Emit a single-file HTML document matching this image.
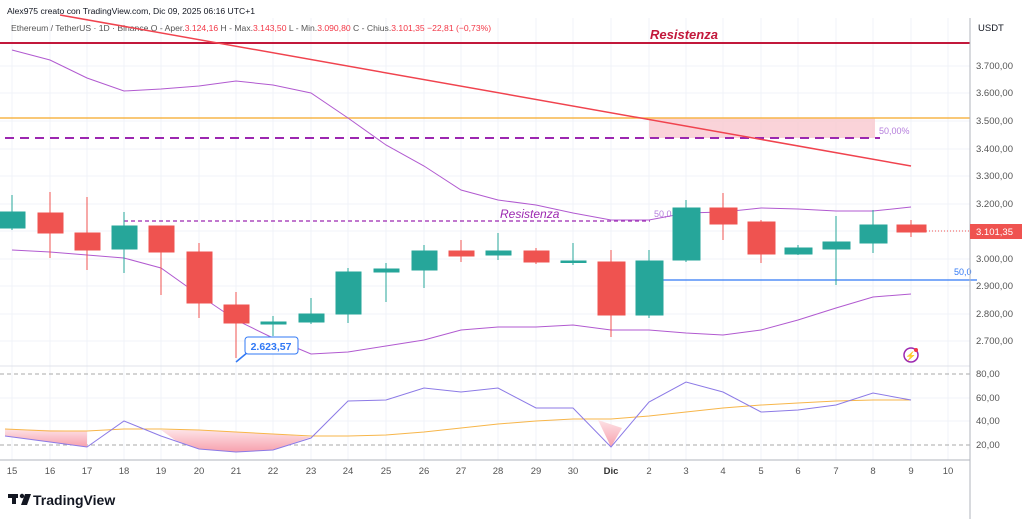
<!DOCTYPE html>
<html><head><meta charset="utf-8"><style>
body{margin:0;background:#fff;font-family:"Liberation Sans",sans-serif}
svg text{font-family:"Liberation Sans",sans-serif}
</style></head><body>
<svg width="1024" height="519" viewBox="0 0 1024 519" xmlns="http://www.w3.org/2000/svg">
<rect width="1024" height="519" fill="#fff"/>
<g stroke="#f0f3f8" stroke-width="1">
<line x1="0" y1="66" x2="970" y2="66"/><line x1="0" y1="93" x2="970" y2="93"/><line x1="0" y1="121" x2="970" y2="121"/><line x1="0" y1="149" x2="970" y2="149"/><line x1="0" y1="176" x2="970" y2="176"/><line x1="0" y1="204" x2="970" y2="204"/><line x1="0" y1="231" x2="970" y2="231"/><line x1="0" y1="259" x2="970" y2="259"/><line x1="0" y1="286" x2="970" y2="286"/><line x1="0" y1="314" x2="970" y2="314"/><line x1="0" y1="341" x2="970" y2="341"/>
<line x1="0" y1="398" x2="970" y2="398"/><line x1="0" y1="421" x2="970" y2="421"/>
<line x1="12" y1="18" x2="12" y2="460"/><line x1="50" y1="18" x2="50" y2="460"/><line x1="87" y1="18" x2="87" y2="460"/><line x1="124" y1="18" x2="124" y2="460"/><line x1="161" y1="18" x2="161" y2="460"/><line x1="199" y1="18" x2="199" y2="460"/><line x1="236" y1="18" x2="236" y2="460"/><line x1="273" y1="18" x2="273" y2="460"/><line x1="311" y1="18" x2="311" y2="460"/><line x1="348" y1="18" x2="348" y2="460"/><line x1="386" y1="18" x2="386" y2="460"/><line x1="424" y1="18" x2="424" y2="460"/><line x1="461" y1="18" x2="461" y2="460"/><line x1="498" y1="18" x2="498" y2="460"/><line x1="536" y1="18" x2="536" y2="460"/><line x1="573" y1="18" x2="573" y2="460"/><line x1="611" y1="18" x2="611" y2="460"/><line x1="649" y1="18" x2="649" y2="460"/><line x1="686" y1="18" x2="686" y2="460"/><line x1="723" y1="18" x2="723" y2="460"/><line x1="761" y1="18" x2="761" y2="460"/><line x1="798" y1="18" x2="798" y2="460"/><line x1="836" y1="18" x2="836" y2="460"/><line x1="873" y1="18" x2="873" y2="460"/><line x1="911" y1="18" x2="911" y2="460"/><line x1="948" y1="18" x2="948" y2="460"/>
</g>
<line x1="0" y1="366" x2="970" y2="366" stroke="#e0e3eb"/>
<text x="7" y="14" font-size="8.6" fill="#131722">Alex975 creato con TradingView.com, Dic 09, 2025 06:16 UTC+1</text>
<text x="11" y="31" font-size="8.6" fill="#555"><tspan>Ethereum / TetherUS · 1D · Binance  O - Aper.</tspan><tspan fill="#f23645">3.124,16</tspan><tspan>  H - Max.</tspan><tspan fill="#f23645">3.143,50</tspan><tspan>  L - Min.</tspan><tspan fill="#f23645">3.090,80</tspan><tspan>  C - Chius.</tspan><tspan fill="#f23645">3.101,35  −22,81 (−0,73%)</tspan></text>
<rect x="649" y="118" width="226" height="20" fill="#f9c8cf" opacity="0.8"/>
<line x1="0" y1="118" x2="970" y2="118" stroke="#f7b64a" stroke-width="1.5"/>
<line x1="5" y1="138" x2="880" y2="138" stroke="#9c27b0" stroke-width="2" stroke-dasharray="9,6"/>
<text x="879" y="134" font-size="9" fill="#b57edc">50,00%</text>
<line x1="0" y1="43" x2="970" y2="43" stroke="#c2183b" stroke-width="2"/>
<text x="650" y="39" font-size="13" font-weight="bold" font-style="italic" fill="#c2183b">Resistenza</text>
<line x1="60" y1="15" x2="911" y2="166" stroke="#f0434e" stroke-width="1.5"/>
<line x1="124" y1="221" x2="650" y2="221" stroke="#9c27b0" stroke-width="1.2" stroke-dasharray="4,3"/>
<text x="500" y="218" font-size="12" font-style="italic" fill="#9c27b0">Resistenza</text>
<text x="654" y="217" font-size="9" fill="#b57edc">50,0</text>
<line x1="649" y1="280" x2="977" y2="280" stroke="#3179f5" stroke-width="1.3"/>
<text x="954" y="275" font-size="9" fill="#3179f5">50,0</text>
<polyline fill="none" stroke="#b15ad0" stroke-width="1" points="12,50 50,60 87,78 124,91 161,89 199,86 236,81 273,85 311,93 348,118 386,145 424,166 461,190 498,200 536,205 573,213 611,220 649,220 686,213 723,212 761,208 798,209 836,211 873,211 911,207"/>
<polyline fill="none" stroke="#b15ad0" stroke-width="1" points="12,250 50,252 87,255 124,258 161,268 199,295 236,320 273,338 311,354 348,352 386,346 424,340 461,330 498,327 536,327 573,325 611,330 649,330 686,333 723,335 761,330 798,320 836,308 873,297 911,294"/>
<g stroke-width="1">
<g stroke="#26a69a" fill="#26a69a"><line x1="12" y1="195" x2="12" y2="230"/><rect x="0" y="212" width="25" height="16"/></g>
<g stroke="#ef5350" fill="#ef5350"><line x1="50" y1="192" x2="50" y2="258"/><rect x="38" y="213" width="25" height="20"/></g>
<g stroke="#ef5350" fill="#ef5350"><line x1="87" y1="197" x2="87" y2="270"/><rect x="75" y="233" width="25" height="17"/></g>
<g stroke="#26a69a" fill="#26a69a"><line x1="124" y1="212" x2="124" y2="273"/><rect x="112" y="226" width="25" height="23"/></g>
<g stroke="#ef5350" fill="#ef5350"><line x1="161" y1="226" x2="161" y2="295"/><rect x="149" y="226" width="25" height="26"/></g>
<g stroke="#ef5350" fill="#ef5350"><line x1="199" y1="243" x2="199" y2="318"/><rect x="187" y="252" width="25" height="51"/></g>
<g stroke="#ef5350" fill="#ef5350"><line x1="236" y1="292" x2="236" y2="358"/><rect x="224" y="305" width="25" height="18"/></g>
<g stroke="#26a69a" fill="#26a69a"><line x1="273" y1="316" x2="273" y2="336"/><rect x="261" y="322" width="25" height="2"/></g>
<g stroke="#26a69a" fill="#26a69a"><line x1="311" y1="298" x2="311" y2="324"/><rect x="299" y="314" width="25" height="8"/></g>
<g stroke="#26a69a" fill="#26a69a"><line x1="348" y1="268" x2="348" y2="323"/><rect x="336" y="272" width="25" height="42"/></g>
<g stroke="#26a69a" fill="#26a69a"><line x1="386" y1="263" x2="386" y2="302"/><rect x="374" y="269" width="25" height="3"/></g>
<g stroke="#26a69a" fill="#26a69a"><line x1="424" y1="245" x2="424" y2="288"/><rect x="412" y="251" width="25" height="19"/></g>
<g stroke="#ef5350" fill="#ef5350"><line x1="461" y1="240" x2="461" y2="262"/><rect x="449" y="251" width="25" height="5"/></g>
<g stroke="#26a69a" fill="#26a69a"><line x1="498" y1="233" x2="498" y2="260"/><rect x="486" y="251" width="25" height="4"/></g>
<g stroke="#ef5350" fill="#ef5350"><line x1="536" y1="248" x2="536" y2="264"/><rect x="524" y="251" width="25" height="11"/></g>
<g stroke="#26a69a" fill="#26a69a"><line x1="573" y1="243" x2="573" y2="265"/><rect x="561" y="261" width="25" height="1.5"/></g>
<g stroke="#ef5350" fill="#ef5350"><line x1="611" y1="250" x2="611" y2="337"/><rect x="598" y="262" width="27" height="53"/></g>
<g stroke="#26a69a" fill="#26a69a"><line x1="649" y1="250" x2="649" y2="318"/><rect x="636" y="261" width="27" height="54"/></g>
<g stroke="#26a69a" fill="#26a69a"><line x1="686" y1="200" x2="686" y2="262"/><rect x="673" y="208" width="27" height="52"/></g>
<g stroke="#ef5350" fill="#ef5350"><line x1="723" y1="193" x2="723" y2="240"/><rect x="710" y="208" width="27" height="16"/></g>
<g stroke="#ef5350" fill="#ef5350"><line x1="761" y1="220" x2="761" y2="263"/><rect x="748" y="222" width="27" height="32"/></g>
<g stroke="#26a69a" fill="#26a69a"><line x1="798" y1="245" x2="798" y2="255"/><rect x="785" y="248" width="27" height="6"/></g>
<g stroke="#26a69a" fill="#26a69a"><line x1="836" y1="216" x2="836" y2="285"/><rect x="823" y="242" width="27" height="7"/></g>
<g stroke="#26a69a" fill="#26a69a"><line x1="873" y1="210" x2="873" y2="253"/><rect x="860" y="225" width="27" height="18"/></g>
<g stroke="#ef5350" fill="#ef5350"><line x1="911" y1="220" x2="911" y2="237"/><rect x="897" y="225" width="29" height="7"/></g>
</g>
<line x1="926" y1="231" x2="970" y2="231" stroke="#ef5350" stroke-dasharray="1,2"/>
<line x1="236" y1="362" x2="248" y2="352" stroke="#3179f5" stroke-width="1.5"/>
<rect x="245" y="337" width="53" height="17" rx="3" fill="#fff" stroke="#3179f5"/>
<text x="271" y="350" font-size="10.5" font-weight="bold" fill="#3179f5" text-anchor="middle">2.623,57</text>
<circle cx="911" cy="355" r="7" fill="none" stroke="#9c27b0" stroke-width="1.5"/>
<text x="911" y="359" font-size="9" fill="#9c27b0" text-anchor="middle">⚡</text>
<circle cx="916" cy="350" r="2" fill="#f23645"/>
<line x1="0" y1="374" x2="970" y2="374" stroke="#aaa" stroke-dasharray="4,3"/>
<line x1="0" y1="445" x2="970" y2="445" stroke="#aaa" stroke-dasharray="4,3"/>
<defs><linearGradient id="g" x1="0" y1="0" x2="0" y2="1"><stop offset="0" stop-color="#fde2e6"/><stop offset="1" stop-color="#f7a0ad"/></linearGradient></defs>
<polygon fill="url(#g)" points="5,429 87,431 87,447 50,442 5,436"/>
<polygon fill="url(#g)" points="161,430 199,430 236,432 273,434 311,437 273,450 236,452 199,449 175,440"/>
<polygon fill="url(#g)" points="598,420 611,447 622,428"/>
<polyline fill="none" stroke="#f7b64a" stroke-width="1" points="5,429 50,431 87,431 124,429 161,429 199,430 236,432 273,434 311,436 348,436 386,435 424,432 461,428 498,424 536,421 573,419 611,419 649,416 686,412 723,408 761,405 798,403 836,401 873,400 911,400"/>
<polyline fill="none" stroke="#8c7ae6" stroke-width="1" points="5,436 50,442 87,447 124,421 161,436 199,449 236,452 273,450 311,438 348,401 386,400 424,388 461,392 498,388 536,408 573,408 611,447 649,402 686,382 723,392 761,412 798,410 836,405 873,393 911,400"/>
<line x1="970" y1="18" x2="970" y2="519" stroke="#b2b5be"/>
<line x1="0" y1="460" x2="970" y2="460" stroke="#b2b5be"/>
<g font-size="9.5" fill="#555">
<text x="978" y="31" fill="#131722">USDT</text>
<text x="976" y="69">3.700,00</text><text x="976" y="96">3.600,00</text><text x="976" y="124">3.500,00</text><text x="976" y="152">3.400,00</text><text x="976" y="179">3.300,00</text><text x="976" y="207">3.200,00</text><text x="976" y="262">3.000,00</text><text x="976" y="289">2.900,00</text><text x="976" y="317">2.800,00</text><text x="976" y="344">2.700,00</text>
<text x="976" y="377">80,00</text><text x="976" y="401">60,00</text><text x="976" y="424">40,00</text><text x="976" y="448">20,00</text>
</g>
<rect x="970" y="224" width="52" height="15" fill="#ef5350"/>
<text x="976" y="235" font-size="9.5" fill="#fff">3.101,35</text>
<g font-size="9.5" fill="#555" text-anchor="middle">
<text x="12" y="474">15</text><text x="50" y="474">16</text><text x="87" y="474">17</text><text x="124" y="474">18</text><text x="161" y="474">19</text><text x="199" y="474">20</text><text x="236" y="474">21</text><text x="273" y="474">22</text><text x="311" y="474">23</text><text x="348" y="474">24</text><text x="386" y="474">25</text><text x="424" y="474">26</text><text x="461" y="474">27</text><text x="498" y="474">28</text><text x="536" y="474">29</text><text x="573" y="474">30</text><text x="611" y="474" font-weight="bold" fill="#333">Dic</text><text x="649" y="474">2</text><text x="686" y="474">3</text><text x="723" y="474">4</text><text x="761" y="474">5</text><text x="798" y="474">6</text><text x="836" y="474">7</text><text x="873" y="474">8</text><text x="911" y="474">9</text><text x="948" y="474">10</text>
</g>
<g fill="#131722"><rect x="8" y="494" width="10" height="4"/><rect x="12" y="494" width="4" height="10"/><circle cx="22" cy="496" r="2.2"/><polygon points="25,494 31,494 27,505 21,505"/></g>
<text x="33" y="505" font-size="14" font-weight="bold" fill="#131722">TradingView</text>
</svg>
</body></html>
